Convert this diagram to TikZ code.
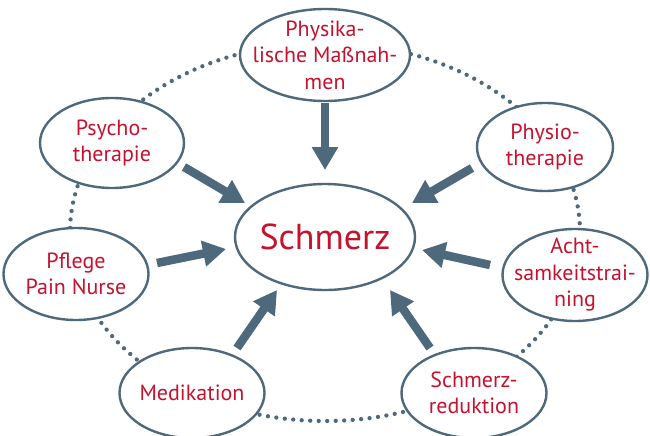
\documentclass[tikz,border=0pt]{standalone}
\usepackage{fontspec}
\setmainfont{PT Sans}
\usetikzlibrary{shapes.geometric,arrows.meta,calc}
\definecolor{slate}{HTML}{4E687C}
\definecolor{crim}{HTML}{C4122F}
\tikzset{
  bubble/.style={ellipse, draw=slate, line width=2.4pt, fill=white, inner sep=0pt},
  lbl/.style={text=crim, align=center, font=\fontsize{22}{26.5}\selectfont, inner sep=0pt},
  biglbl/.style={lbl, font=\fontsize{36}{40}\selectfont},
  ring/.style={draw=slate, line width=4.3pt, line cap=round, dash pattern=on 0pt off 8.5pt},
  arr/.style={draw=slate, line width=8.5pt, -{Triangle[width=25pt,length=23pt]}}
}
\begin{document}
\begin{tikzpicture}[x=1pt,y=-1pt]
\useasboundingbox[fill=white] (0,0) rectangle (650,436);
\draw[ring] (325,232) ellipse [x radius=255, y radius=189];
\node[bubble, minimum width=170pt, minimum height=92pt, label={[lbl]center:Physika-\\lische Maßnah-\\men}] (phy) at (325,55) {};
\node[bubble, minimum width=144pt, minimum height=90pt, label={[lbl]center:Psycho-\\therapie}] (psy) at (112,143) {};
\node[bubble, minimum width=136pt, minimum height=88pt, label={[lbl]center:Physio-\\therapie}] (pht) at (545,147) {};
\node[bubble, minimum width=145pt, minimum height=92pt, label={[lbl]center:Pflege\\Pain Nurse}] (pfl) at (76,274) {};
\node[bubble, minimum width=145pt, minimum height=92pt, label={[lbl]center:Acht-\\samkeitstrai-\\ning}] (ach) at (575,275) {};
\node[bubble, minimum width=145pt, minimum height=90pt, label={[lbl]center:Medikation}] (med) at (192,393) {};
\node[bubble, minimum width=145pt, minimum height=90pt, label={[lbl]center:Schmerz-\\reduktion}] (red) at (474,393) {};
\node[bubble, minimum width=180pt, minimum height=106pt, label={[biglbl]center:Schmerz}] (sch) at (325,237) {};
\draw[arr] ($(phy)+(0,48)$) -- ($(sch)+(0,-67)$);
\draw[arr] ($(psy)+(72,24)$) -- ($(sch)+(-80,-34)$);
\draw[arr] ($(pht)+(-73,21)$) -- ($(sch)+(87,-34)$);
\draw[arr] ($(pfl)+(81,-11)$) -- ($(sch)+(-99,12)$);
\draw[arr] ($(ach)+(-85,-10)$) -- ($(sch)+(97,13)$);
\draw[arr] ($(med)+(45,-45)$) -- ($(sch)+(-48,53)$);
\draw[arr] ($(red)+(-44,-45)$) -- ($(sch)+(65,53)$);
\end{tikzpicture}
\end{document}
